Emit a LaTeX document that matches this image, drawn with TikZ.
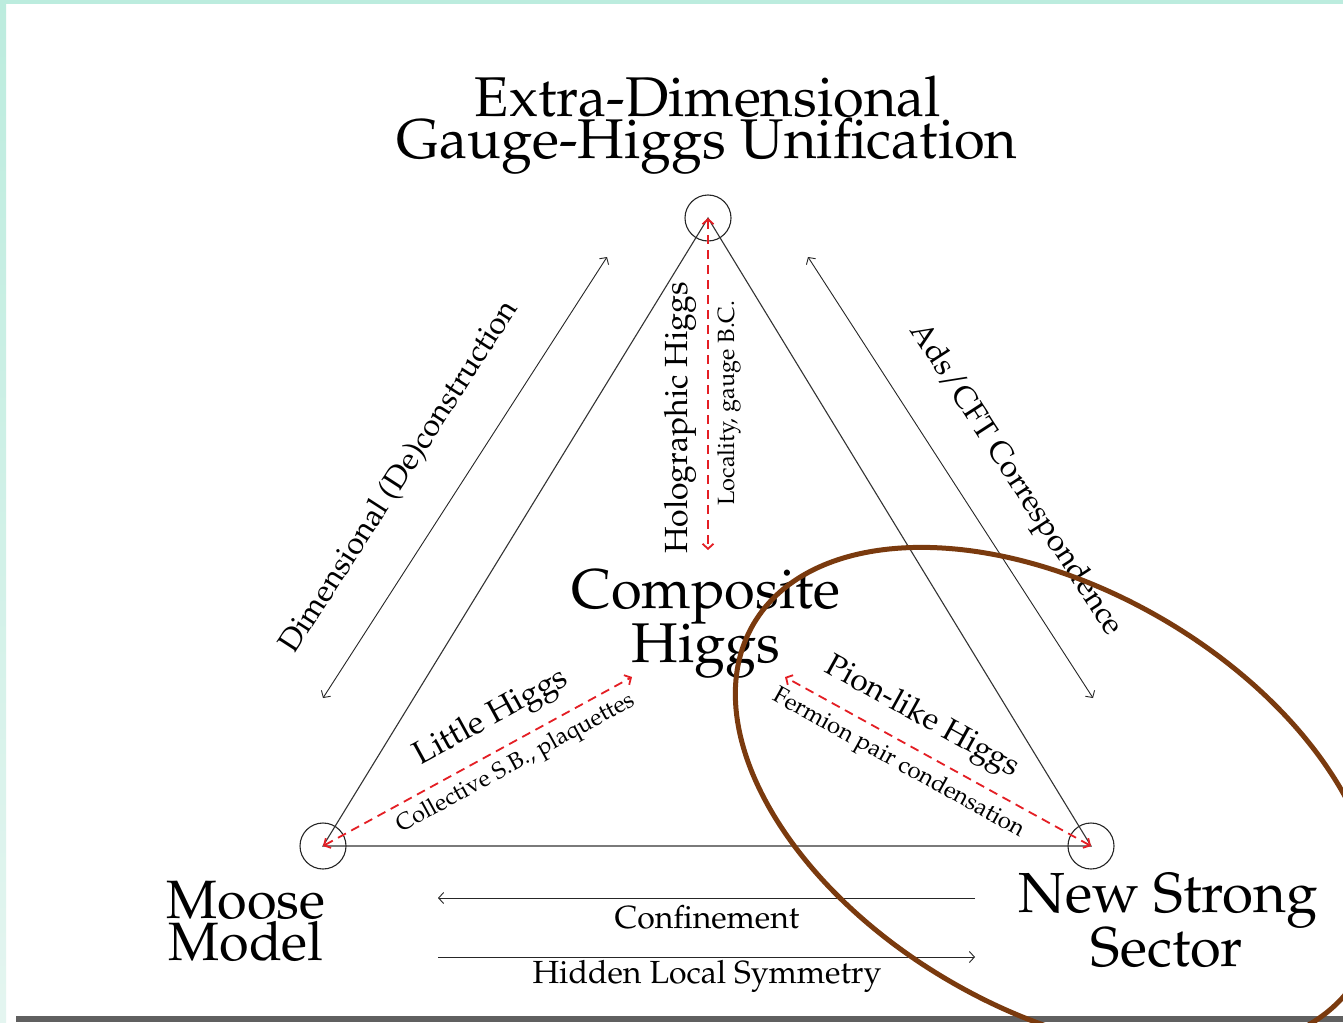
\documentclass[tikz,border=0pt]{standalone}
\usepackage[T1]{fontenc}
\usepackage{mathpazo}
\usetikzlibrary{arrows.meta}

\definecolor{mint}{RGB}{188,236,222}
\definecolor{mintpale}{RGB}{228,245,240}
\definecolor{bargray}{RGB}{96,96,96}
\definecolor{linkred}{RGB}{228,30,36}
\definecolor{ringbrown}{RGB}{122,58,14}

\newcommand{\fs}[1]{\fontsize{#1}{#1}\selectfont}

\begin{document}
\begin{tikzpicture}[x=1pt,y=-1pt,
  vertex/.style={circle,draw=black!85,line width=1.1pt,minimum size=46pt,inner sep=0pt},
  side/.style={line width=1.1pt,draw=black!80},
  flow/.style={line width=0.9pt,draw=black!85,
    arrows={Straight Barb[length=5pt,width=11pt]-Straight Barb[length=5pt,width=11pt]}},
  oneway/.style={line width=0.9pt,draw=black!85,-{Straight Barb[length=5pt,width=11pt]}},
  link/.style={line width=1.8pt,draw=linkred,dash pattern=on 9pt off 6pt,
    arrows={Straight Barb[length=5pt,width=11pt]-Straight Barb[length=5pt,width=11pt]}},
  corner/.style={inner sep=0pt,anchor=base},
  tag/.style={inner sep=0pt,anchor=center}
]
\useasboundingbox (0,0) rectangle (1343,1022);
\clip (0,0) rectangle (1343,1022);

% frame strips
\fill[white] (0,0) rectangle (1343,1022);
\fill[mint] (0,0) rectangle (1343,4);
\shade[top color=mint,bottom color=mintpale] (0,0) rectangle (6,1022);
\fill[bargray] (16,1016) rectangle (1343,1022);

% corner vertices
\node[vertex] (ed) at (708,218) {};
\node[vertex] (mm) at (323,846) {};
\node[vertex] (ns) at (1091,846) {};

% free ends of the arrows
\coordinate (chT) at (708,550);
\coordinate (chL) at (632,677);
\coordinate (chR) at (785,677);
\coordinate (dcA) at (323,698);
\coordinate (dcB) at (607,257);
\coordinate (adsA) at (808,257);
\coordinate (adsB) at (1093,698);
\coordinate (cfA) at (975,898);
\coordinate (cfB) at (438,898);
\coordinate (hlA) at (438,957);
\coordinate (hlB) at (975,957);

% triangle
\draw[side] (ed.center) -- (mm.center) -- (ns.center) -- cycle;

% outer arrows
\draw[flow] (dcA) -- (dcB);
\draw[flow] (adsA) -- (adsB);
\draw[oneway] (cfA) -- (cfB);
\draw[oneway] (hlA) -- (hlB);

% inner dashed arrows
\draw[link] (ed.center) -- (chT);
\draw[link] (mm.center) -- (chL);
\draw[link] (ns.center) -- (chR);

% corner titles
\node[corner] (ed1) at (708,117) {\fs{56}Extra-Dimensional};
\node[corner] (ed2) at (707,158) {\fs{56}Gauge-Higgs Unification};
\node[corner] (ch1) at (706,608) {\fs{56}Composite};
\node[corner] (ch2) at (706,662) {\fs{56}Higgs};
\node[corner] (mm1) at (246,918) {\fs{54}Moose};
\node[corner] (mm2) at (246,960) {\fs{54}Model};
\node[corner] (ns1) at (1168,912) {\fs{56.5}New Strong};
\node[corner] (ns2) at (1167,966) {\fs{56}Sector};

% arrow labels
\node[tag,rotate=57.2] (dcl) at (400,477) {\fs{31}Dimensional (De)construction};
\node[tag,rotate=-57.1] (adsl) at (1015,480) {\fs{31}Ads/CFT Correspondence};
\node[corner] (cfl) at (707,928) {\fs{32}Confinement};
\node[corner] (hll) at (707,983) {\fs{32}Hidden Local Symmetry};

\node[tag,rotate=90] (hol) at (680,418) {\fs{32}Holographic Higgs};
\node[tag,rotate=90] (loc) at (729,403) {\fs{23.5}Locality, gauge B.C.};
\node[tag,rotate=28.7] (lit) at (492,718) {\fs{32.5}Little Higgs};
\node[tag,rotate=28.7] (col) at (516,764) {\fs{23.5}Collective S.B., plaquettes};
\node[tag,rotate=-29] (pio) at (922,718) {\fs{31.5}Pion-like Higgs};
\node[tag,rotate=-29] (fer) at (898,764) {\fs{23.8}Fermion pair condensation};

% highlight ring
\draw[ringbrown,line width=5pt,rotate around={-30.1:(1056,800)}]
  (1056,800) ellipse (350 and 210);
\end{tikzpicture}
\end{document}
